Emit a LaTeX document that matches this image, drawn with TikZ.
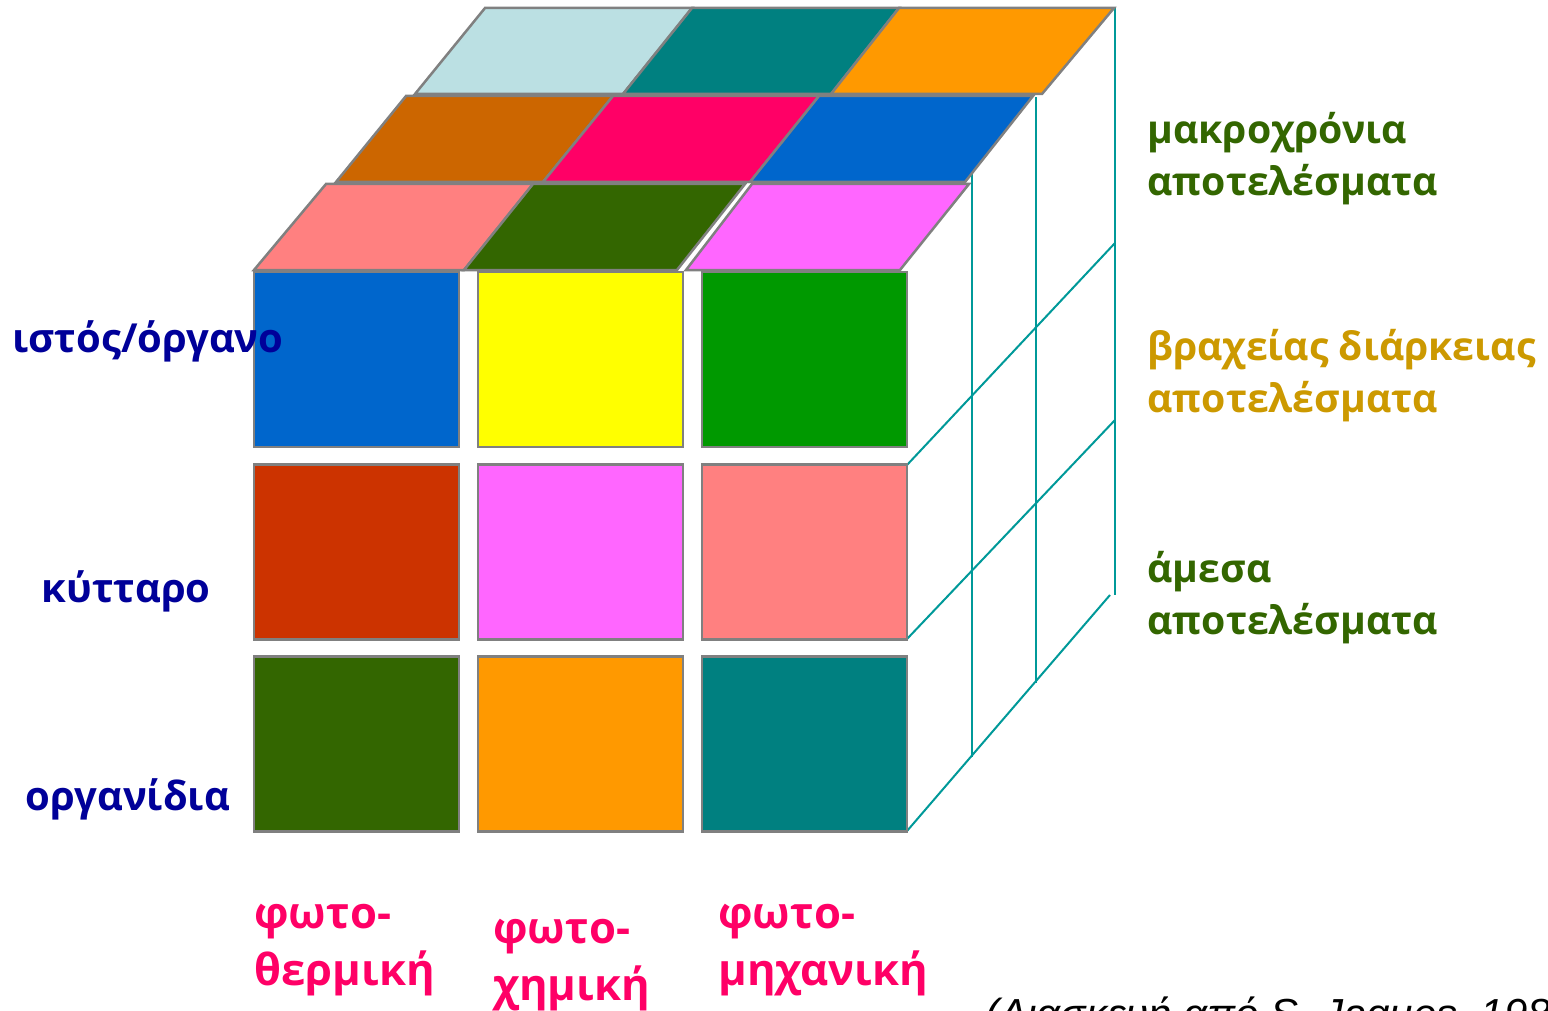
\documentclass[tikz,border=0pt]{standalone}
\usepackage{fontspec}
\setmainfont{Open Sans}
\newfontfamily\notefont{Liberation Sans}
\usepackage{xcolor}
\usetikzlibrary{positioning}

\definecolor{cubegray}{HTML}{808080}
\definecolor{edgeteal}{HTML}{009999}
\definecolor{cblue}{HTML}{0066CC}
\definecolor{cyellow}{HTML}{FFFF00}
\definecolor{cgreen}{HTML}{009900}
\definecolor{crust}{HTML}{CC3300}
\definecolor{cmagenta}{HTML}{FF66FF}
\definecolor{csalmon}{HTML}{FF8080}
\definecolor{cdkgreen}{HTML}{336600}
\definecolor{corange}{HTML}{FF9900}
\definecolor{cteal}{HTML}{008080}
\definecolor{cbrown}{HTML}{CC6600}
\definecolor{crose}{HTML}{FF0066}
\definecolor{cpale}{HTML}{BBE0E3}
\definecolor{levelblue}{HTML}{000099}
\definecolor{timegreen}{HTML}{336600}
\definecolor{timegold}{HTML}{CC9900}
\definecolor{typepink}{HTML}{FF0066}

\begin{document}
\begin{tikzpicture}[
        x=0.5pt, y=-0.5pt,
        cube/.style={draw=cubegray, line width=1.25pt},
        facebox/.style={cube, rectangle, minimum width=102.5pt, minimum height=87.5pt, inner sep=0pt},
        edge/.style={draw=edgeteal, line width=1pt},
        levellabel/.style={text=levelblue, font=\bfseries\fontsize{20}{22}\selectfont, anchor=base, inner sep=0pt},
        timelabel/.style={font=\bfseries\fontsize{19.6}{26}\selectfont, anchor=base west, align=left, inner sep=0pt},
        typelabel/.style={text=typepink, font=\bfseries\fontsize{21.8}{28.5}\selectfont, anchor=base west, align=left, inner sep=0pt}
    ]
        \useasboundingbox (0,0) rectangle (1548,1011);

        % hidden edges of the cube
        \coordinate (r1) at (907,465);
        \coordinate (r2) at (907,639);
        \coordinate (r3) at (907,831);
        \draw [edge] (972,172) -- (972,757);
        \draw [edge] (1036,97) -- (1036,683);
        \draw [edge] (1115,7) -- (1115,595);
        \draw [edge] (r1) -- (1115,243);
        \draw [edge] (r2) -- (1115,420);
        \draw [edge] (r3) -- (1110,595);

        % top face
        \foreach \clr/\a/\b/\c/\d/\y in {
                cpale/415/623/692/485/94, cteal/623/831/899/692/94, corange/831/1042/1114/899/94,
                cbrown/336/543/613/406/182, crose/543/750/819/613/182, cblue/750/965/1033/819/182,
                csalmon/254/464/533/326/270, cdkgreen/464/677/745/533/270, cmagenta/686/900/969/752/270}
            \filldraw [cube, fill=\clr] (\a,\y) -- (\b,\y) -- (\c,\y-86) -- (\d,\y-86) -- cycle;

        % front face
        \foreach \clr [count=\i from 0] in {cblue, cyellow, cgreen, crust, cmagenta, csalmon, cdkgreen, corange, cteal}
            \node (sq\i) [facebox, fill=\clr] at ({356.5+224*mod(\i,3)}, {359.5+192.3*int(\i/3)}) {};

        % levels
        \node (organ) [levellabel] at (148,352) {ιστός/όργανο};
        \node (cell) [levellabel] at (126,602) {κύτταρο};
        \node (organelle) [levellabel] at (128,810) {οργανίδια};

        % time scale (base = last line)
        \node (longterm) [timelabel, text=timegreen] at (1147,196) {μακροχρόνια\\αποτελέσματα};
        \node (shortterm) [timelabel, text=timegold] at (1147,412) {βραχείας διάρκειας\\αποτελέσματα};
        \node (direct) [timelabel, text=timegreen] at (1147,634) {άμεσα\\αποτελέσματα};

        % interaction types
        \node (thermal) [typelabel] at (254,985) {φωτο-\\θερμική};
        \node (chemical) [typelabel] at (493,1000) {φωτο-\\χημική};
        \node (mechanical) [typelabel] at (718,985) {φωτο-\\μηχανική};

        \node (source) [anchor=base west, inner sep=0pt, font=\notefont\itshape\fontsize{21}{26}\selectfont] at (985,1028) {(Διασκευή από S. Jaques, 198};
    \end{tikzpicture}
\end{document}
